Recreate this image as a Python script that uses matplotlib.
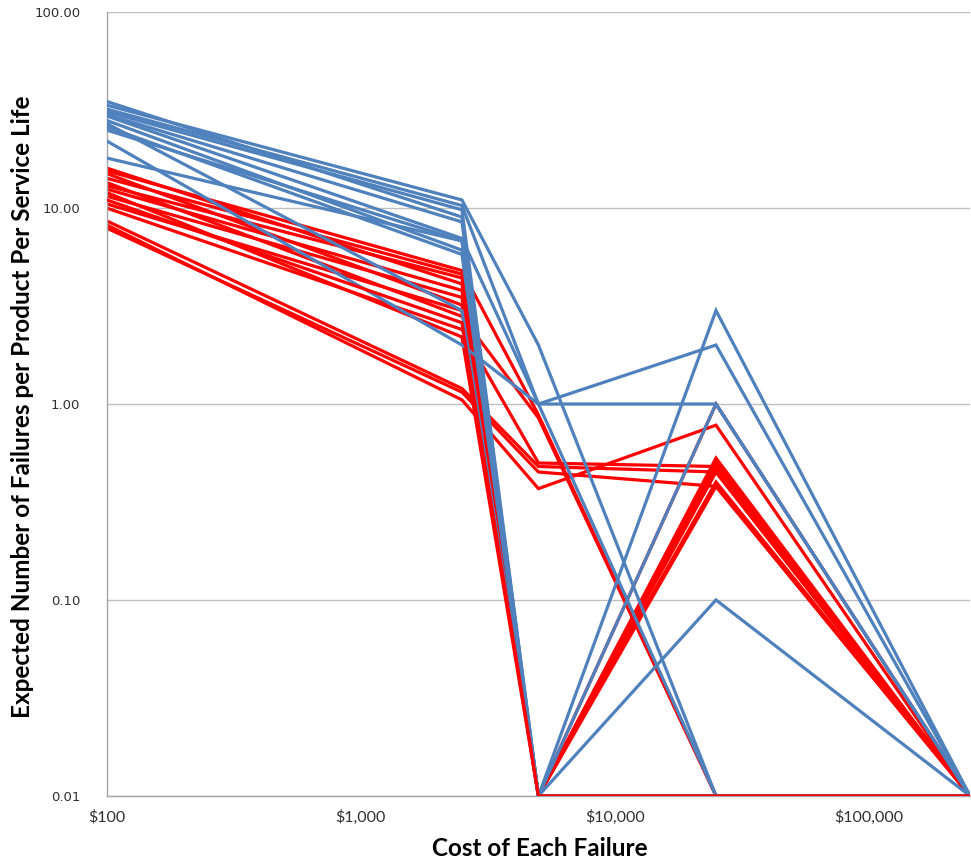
import matplotlib
matplotlib.use("Agg")
import matplotlib.pyplot as plt
from matplotlib.ticker import FixedLocator, FixedFormatter, NullLocator

# Cost levels (x) shared by every product line
costs = [100, 2500, 5000, 25000, 250000]

# Expected failures per product per service life; 0.01 marks "none"
blue_series = [
    [35.0, 9.0, 0.01, 3.0, 0.01],
    [33.5, 11.0, 2.0, 0.01, 0.01],
    [32.0, 10.3, 1.0, 2.0, 0.01],
    [31.0, 9.8, 0.01, 0.01, 0.01],
    [29.5, 7.0, 1.0, 1.0, 0.01],
    [28.0, 6.1, 0.01, 1.0, 0.01],
    [27.0, 3.0, 0.01, 0.01, 0.01],
    [25.0, 6.8, 0.01, 0.1, 0.01],
    [22.0, 2.0, 1.0, 0.01, 0.01],
    [18.0, 6.8, 0.01, 0.01, 0.01],
    [26.0, 5.8, 0.01, 0.01, 0.01],
    [30.0, 8.5, 0.01, 0.01, 0.01],
]

red_series = [
    [16.0, 4.1, 0.01, 0.53, 0.01],
    [15.5, 4.8, 0.88, 0.01, 0.01],
    [15.0, 3.2, 0.01, 0.50, 0.01],
    [14.2, 4.6, 0.01, 0.48, 0.01],
    [13.5, 2.8, 0.85, 0.01, 0.01],
    [13.0, 4.4, 0.01, 1.0, 0.01],
    [12.5, 3.8, 0.01, 0.45, 0.01],
    [12.0, 2.2, 0.01, 0.40, 0.01],
    [11.5, 3.5, 0.01, 0.38, 0.01],
    [10.5, 3.0, 0.01, 0.50, 0.01],
    [10.0, 2.4, 0.50, 0.48, 0.01],
    [8.6, 1.2, 0.48, 0.45, 0.01],
    [8.2, 1.05, 0.37, 0.78, 0.01],
    [7.9, 1.15, 0.45, 0.38, 0.01],
    [11.0, 2.6, 0.01, 0.01, 0.01],
]

x_tick_values = [100, 1000, 10000, 100000]
x_tick_labels = ["$100", "$1,000", "$10,000", "$100,000"]
y_tick_values = [0.01, 0.1, 1, 10, 100]
y_tick_labels = ["0.01", "0.10", "1.00", "10.00", "100.00"]

BLUE = "#4F81BD"
RED = "#FF0000"
LW = 2.3

plt.rcParams["font.family"] = ["Lato", "DejaVu Sans"]

fig = plt.figure(figsize=(9.71, 8.67), dpi=100)
ax = fig.add_axes([0.110, 0.082, 0.889, 0.904])

# reds first, blues over them, last red (all zeros after $2,500) on top
for vals in red_series[:-1]:
    ax.plot(costs, vals, color=RED, lw=LW, solid_joinstyle="miter", zorder=2)
for vals in blue_series:
    ax.plot(costs, vals, color=BLUE, lw=LW, solid_joinstyle="miter", zorder=3)
ax.plot(costs, red_series[-1], color=RED, lw=LW, solid_joinstyle="miter", zorder=4)

ax.set_xscale("log")
ax.set_yscale("log")
ax.set_xlim(100, 250000)
ax.set_ylim(0.01, 100)

ax.xaxis.set_major_locator(FixedLocator(x_tick_values))
ax.xaxis.set_major_formatter(FixedFormatter(x_tick_labels))
ax.xaxis.set_minor_locator(NullLocator())
ax.yaxis.set_major_locator(FixedLocator(y_tick_values))
ax.yaxis.set_major_formatter(FixedFormatter(y_tick_labels))
ax.yaxis.set_minor_locator(NullLocator())

ax.grid(axis="y", color="#BFBFBF", lw=1.0, zorder=0)
ax.set_axisbelow(True)
for side in ("top", "right"):
    ax.spines[side].set_visible(False)
for side in ("left", "bottom"):
    ax.spines[side].set_color("#A6A6A6")
    ax.spines[side].set_linewidth(1.0)

ax.tick_params(axis="both", length=0, colors="#303030")
ax.tick_params(axis="x", pad=10, labelsize=11.5)
ax.tick_params(axis="y", pad=19, labelsize=9.5)
for lbl in ax.get_yticklabels():
    lbl.set_fontfamily("DejaVu Sans")

# axis titles placed in figure pixels
W, H = 971, 867
fig.text(540 / W, 1 - 849 / H, "Cost of Each Failure",
         fontsize=17.5, fontweight="bold", ha="center", va="center")
fig.text(23 / W, 1 - 407 / H,
         "Expected Number of Failures per Product Per Service Life",
         fontsize=17.5, fontweight="bold", ha="center", va="center", rotation=90)

fig.savefig("out.png", dpi=100)
